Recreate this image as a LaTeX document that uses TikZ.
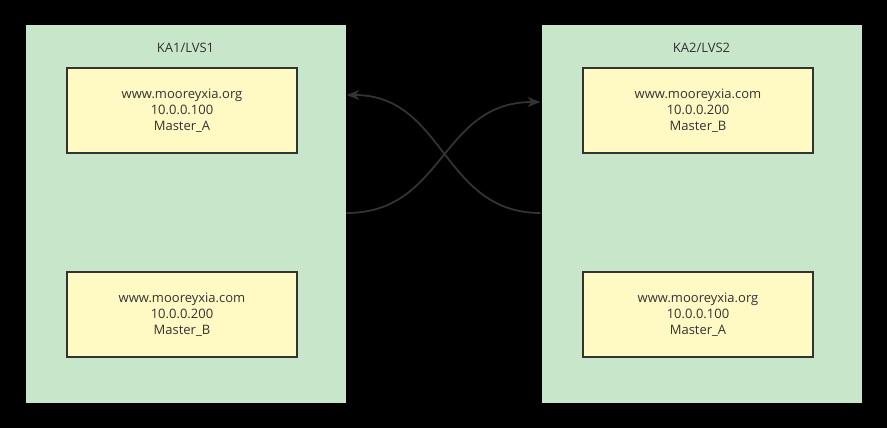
\documentclass[tikz,border=0pt]{standalone}
\usepackage{fontspec}
\setmainfont{Open Sans}
\usetikzlibrary{arrows.meta}
\definecolor{panelgreen}{HTML}{C8E6C9}
\definecolor{boxyellow}{HTML}{FFF9C4}
\definecolor{edgegray}{HTML}{333333}
\begin{document}
\begin{tikzpicture}[x=1pt,y=-1pt,
  panel/.style={draw=black,line width=1pt,fill=panelgreen},
  hostbox/.style={draw=edgegray,line width=1.4pt,fill=boxyellow,minimum width=230pt,minimum height=85pt,
    align=center,font=\fontsize{13pt}{15.8pt}\selectfont,text=edgegray,inner sep=0pt},
  ttl/.style={font=\fontsize{13pt}{15pt}\selectfont,text=edgegray},
  link/.style={draw=edgegray,line width=1.8pt,-{Stealth[length=13pt,width=10pt]}}]
\fill[black] (0,0) rectangle (887,428);
\useasboundingbox (0,0) rectangle (887,428);
\node[panel,minimum width=321pt,minimum height=378pt,inner sep=0pt] (p1) at (185.5,214) {};
\node[panel,minimum width=321pt,minimum height=378pt,inner sep=0pt] (p2) at (701.5,214) {};
\node[ttl] (t1) at (185.5,48) {KA1/LVS1};
\node[ttl] (t2) at (701.5,48) {KA2/LVS2};
\node[hostbox] (a1) at (182,110.5) {www.mooreyxia.org\\10.0.0.100\\Master\_A};
\node[hostbox] (b1) at (182,314.5) {www.mooreyxia.com\\10.0.0.200\\Master\_B};
\node[hostbox] (b2) at (698,110.5) {www.mooreyxia.com\\10.0.0.200\\Master\_B};
\node[hostbox] (a2) at (698,314.5) {www.mooreyxia.org\\10.0.0.100\\Master\_A};
\coordinate (s1) at (p1.east |- 0,213);
\coordinate (e1) at (p2.west |- 0,102);
\coordinate (s2) at (p2.west |- 0,213);
\coordinate (e2) at (p1.east |- 0,95);
\draw[link] (s1) .. controls (445,213) and (440,102) .. (e1);
\draw[link] (s2) .. controls (442,213) and (445,95) .. (e2);
\end{tikzpicture}
\end{document}
